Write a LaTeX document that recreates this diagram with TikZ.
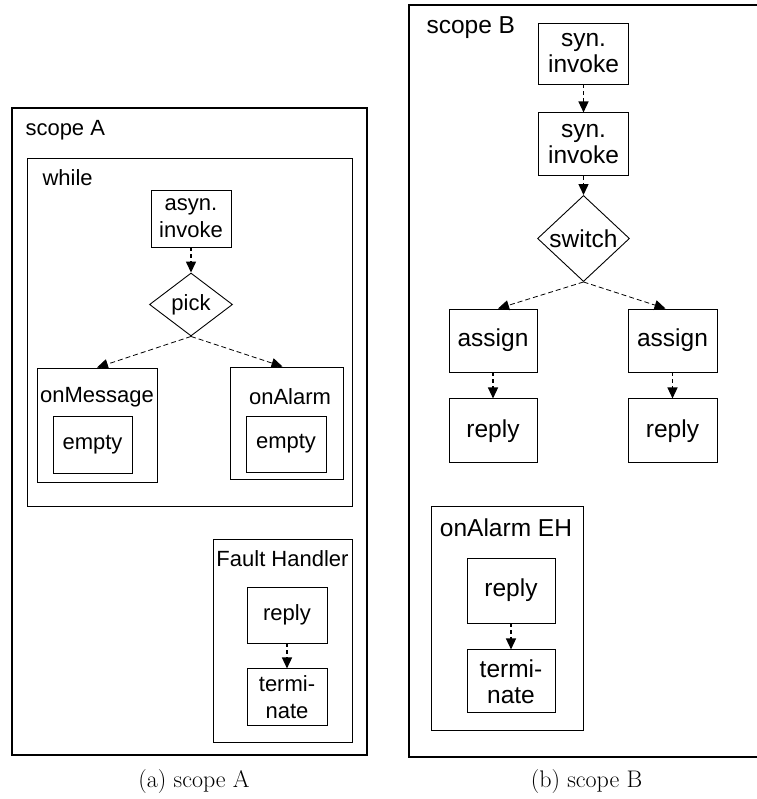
\documentclass[tikz,border=0pt]{standalone}
\usepackage{fontspec}
\newfontfamily\diafont{Liberation Sans}
\usetikzlibrary{positioning,shapes.geometric,arrows.meta}

\begin{document}
\begin{tikzpicture}[x=1pt,y=-1pt,
    box/.style={draw,line width=0.9pt,inner sep=0pt,align=center},
    cont/.style={draw,line width=0.9pt,inner sep=0pt},
    scopebox/.style={draw,line width=2.4pt,inner sep=0pt},
    choice/.style={draw,diamond,line width=0.9pt,inner sep=0pt},
    flow/.style={-{Triangle[width=10pt,length=11pt]},dash pattern=on 4pt off 3pt,line width=1.4pt},
    thinflow/.style={flow,line width=0.8pt,dash pattern=on 5pt off 3pt},
    fa/.style={font=\diafont\fontsize{22}{27}\selectfont},
    fb/.style={font=\diafont\fontsize{24.5}{26}\selectfont}]
\useasboundingbox (0,0) rectangle (756,799);

% (a) scope A
\node[scopebox,minimum width=355pt,minimum height=647pt] (sA) at (189.5,431.5) {};
\node[fa,anchor=west] (sAl) at (22,130) {scope A};
\node[cont,minimum width=325pt,minimum height=348pt] (wh) at (189.5,332) {};
\node[fa,anchor=west] (whl) at (39,178) {while};
\node[box,fa,minimum width=80pt,minimum height=57pt] (ai) at (191,218.5) {asyn.\\invoke};
\node[choice,fa,minimum width=83pt,minimum height=63pt] (pk) at (191,304.5) {pick};
\node[cont,minimum width=120pt,minimum height=114pt] (onM) at (97,425) {};
\node[fa] (onMl) at (97,397) {onMessage};
\node[box,fa,minimum width=79pt,minimum height=57pt] (emL) at (92.5,444.5) {empty};
\node[cont,minimum width=113pt,minimum height=112pt] (onA) at (286.5,423) {};
\node[fa] (onAl) at (290,397) {onAlarm};
\node[box,fa,minimum width=80pt,minimum height=56pt] (emR) at (286,444) {empty};
\node[cont,minimum width=139pt,minimum height=203pt] (fh) at (282.5,640.5) {};
\node[fa] (fhl) at (282.5,559) {Fault Handler};
\node[box,fa,minimum width=80pt,minimum height=56pt] (fhr) at (287,615) {reply};
\node[box,fa,minimum width=80pt,minimum height=57pt] (fht) [below=25pt of fhr] {termi-\\nate};

\draw[flow] (ai) -- (pk);
\draw[thinflow] (pk.south) -- (onM.north);
\draw[thinflow] (pk.south) -- ([xshift=-4pt]onA.north);
\draw[flow] (fhr) -- (fht);

% (b) scope B
\node[scopebox,minimum width=349pt,minimum height=752pt] (sB) at (583.5,381) {};
\node[fb,anchor=west] (sBl) at (423,28) {scope B};
\node[box,fb,minimum width=90pt,minimum height=61pt] (si1) at (583.5,53.5) {syn.\\invoke};
\node[box,fb,minimum width=90pt,minimum height=63pt] (si2) [below=28pt of si1] {syn.\\invoke};
\node[choice,fb,minimum width=92pt,minimum height=71pt] (sw) at (583.5,238.5) {switch};
\node[box,fb,minimum width=88pt,minimum height=63pt] (asgL) at (493,340.5) {assign};
\node[box,fb,minimum width=89pt,minimum height=63pt] (asgR) at (672.5,340.5) {assign};
\node[box,fb,minimum width=88pt,minimum height=64pt] (repL) [below=26pt of asgL] {reply};
\node[box,fb,minimum width=89pt,minimum height=64pt] (repR) [below=26pt of asgR] {reply};
\node[cont,minimum width=152pt,minimum height=224pt] (eh) at (507,618) {};
\node[fb] (ehl) at (506,528) {onAlarm EH};
\node[box,fb,minimum width=88pt,minimum height=65pt] (ehr) at (511,590.5) {reply};
\node[box,fb,minimum width=88pt,minimum height=63pt] (eht) [below=26pt of ehr] {termi-\\nate};

\draw[flow] (si1) -- (si2);
\draw[flow] (si2) -- (sw);
\draw[thinflow] (sw.south) -- ([xshift=5pt]asgL.north);
\draw[thinflow] (sw.south) -- ([xshift=-7pt]asgR.north);
\draw[flow] (asgL) -- (repL);
\draw[flow] (asgR) -- (repR);
\draw[flow] (ehr) -- (eht);

% captions
\node[font=\fontsize{24}{28}\selectfont] (capA) at (194,782) {(a) scope A};
\node[font=\fontsize{24}{28}\selectfont] (capB) at (586.5,782) {(b) scope B};
\end{tikzpicture}
\end{document}
